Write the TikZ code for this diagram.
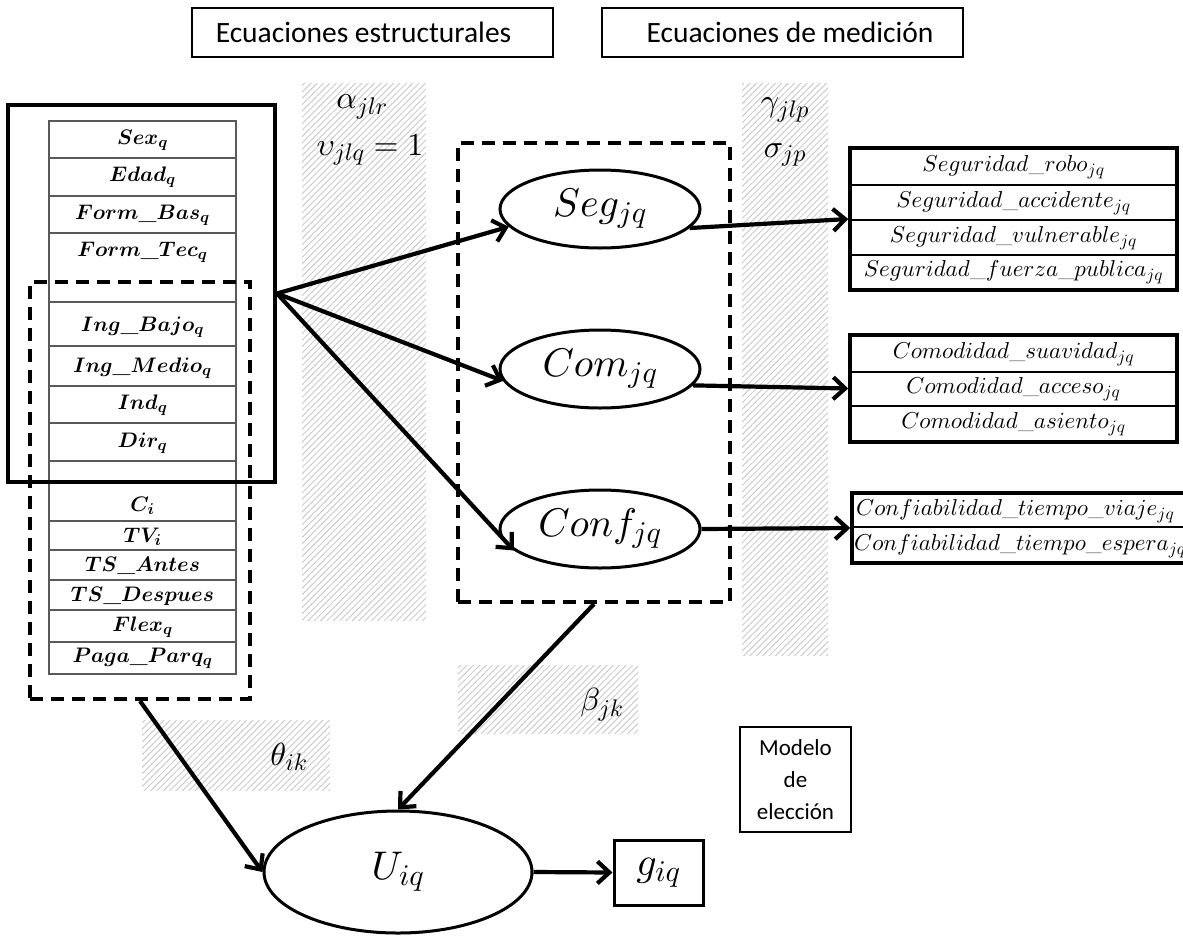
\documentclass[tikz,border=0pt]{standalone}
\usepackage{amsmath}
\usepackage{fontspec}
\newfontfamily\calib{Carlito}
\DeclareFontShape{OML}{cmm}{m}{it}{<->cmmi10}{}
\DeclareFontShape{OML}{cmm}{b}{it}{<->cmmib10}{}
\DeclareFontShape{OMS}{cmsy}{m}{n}{<->cmsy10}{}
\DeclareFontShape{OMS}{cmsy}{b}{n}{<->cmbsy10}{}
\DeclareFontShape{OT1}{cmr}{m}{n}{<->cmr10}{}
\DeclareFontShape{OT1}{cmr}{bx}{n}{<->cmbx10}{}
\def\defaultscriptratio{.75}
\usetikzlibrary{arrows.meta,patterns.meta,shapes.geometric}
\begin{document}
\begin{tikzpicture}[x=1pt,y=-1pt,
  hatch/.style={draw=none,pattern={Lines[angle=45,distance=4.5pt,line width=1pt]},pattern color=black!20},
  tline/.style={draw=black!65,line width=1.1pt},
  tabtxt/.style={inner sep=0pt,font=\fontsize{21}{25}\selectfont\bfseries\boldmath},
  rtxt/.style={inner sep=0pt,font=\fontsize{23}{27}\selectfont},
  lbl/.style={inner sep=0pt,font=\fontsize{32}{38}\selectfont},
  ell/.style={draw,ellipse,line width=3pt,inner sep=0pt,font=\fontsize{40}{46}\selectfont},
  titlebox/.style={draw,line width=2.6pt,inner sep=0pt},
  titletxt/.style={inner sep=0pt,font=\calib\fontsize{29.5}{34}\selectfont},
  dbox/.style={draw,line width=4pt,dash pattern=on 13pt off 8pt,inner sep=0pt},
  obox/.style={draw,line width=3.5pt,inner sep=0pt},
  conn/.style={line width=4.2pt,-{Straight Barb[length=12pt,width=22pt]}}
]
\useasboundingbox (0,0) rectangle (1183,935);
\clip (0,0) rectangle (1183,935);

% hatched bands
\fill[hatch] (302,83) rectangle (426,620);
\fill[hatch] (742,83) rectangle (828,655);
\fill[hatch] (458,665) rectangle (638,733);
\fill[hatch] (142,720) rectangle (330,790);

% title boxes
\node[titlebox,minimum width=361,minimum height=49] (tb1) at (372.5,32.5) {};
\node[titletxt] (tt1) at (363.5,32) {Ecuaciones estructurales};
\node[titlebox,minimum width=361,minimum height=49] (tb2) at (782.5,32.5) {};
\node[titletxt] (tt2) at (790,32) {Ecuaciones de medición};

% left table
\draw[tline,fill=white] (49,121) rectangle (236,674);
\foreach \y in {158,196,233,302,346,386,423,461,521,550,580,610,642}
  \draw[tline] (49,\y) -- (236,\y);
\node[tabtxt] (t1) at (142.5,140) {$Sex_q$};
\node[tabtxt] (t2) at (142.5,177) {$Edad_q$};
\node[tabtxt] (t3) at (142.5,215) {$Form\_Bas_q$};
\node[tabtxt] (t4) at (142.5,252) {$Form\_Tec_q$};
\node[tabtxt] (t5) at (142.5,327) {$Ing\_Bajo_q$};
\node[tabtxt] (t6) at (142.5,368) {$Ing\_Medio_q$};
\node[tabtxt] (t7) at (142.5,405) {$Ind_q$};
\node[tabtxt] (t8) at (142.5,443) {$Dir_q$};
\node[tabtxt] (t9) at (142.5,506) {$C_i$};
\node[tabtxt] (t10) at (142.5,537) {$TV_i$};
\node[tabtxt] (t11) at (142.5,566) {$TS\_Antes$};
\node[tabtxt] (t12) at (142.5,596) {$TS\_Despues$};
\node[tabtxt] (t13) at (142.5,627) {$Flex_q$};
\node[tabtxt] (t14) at (142.5,658) {$Paga\_Parq_q$};

% left boxes
\node[obox,line width=4pt,minimum width=267,minimum height=377] (lbox) at (141.5,293.5) {};
\node[dbox,minimum width=220,minimum height=417] (ldbox) at (140,490.5) {};

% center dashed box and latent variables
\node[dbox,minimum width=272,minimum height=459] (cbox) at (594,372.5) {};
\node[ell,minimum width=200,minimum height=78] (seg) at (600,209) {$Seg_{jq}$};
\node[ell,minimum width=200,minimum height=78] (com) at (600,369) {$Com_{jq}$};
\node[ell,minimum width=200,minimum height=78] (conf) at (600,529) {$Conf_{jq}$};

% parameter labels
\node[lbl] (alpha) at (362,107) {$\alpha_{jlr}$};
\node[lbl] (ups) at (370,150) {$\upsilon_{jlq}=1$};
\node[lbl] (gam) at (785,110) {$\gamma_{jlp}$};
\node[lbl] (sig) at (785,155) {$\sigma_{jp}$};
\node[lbl] (beta) at (602,705) {$\beta_{jk}$};
\node[lbl] (theta) at (289,757) {$\theta_{ik}$};

% right indicator boxes
\node[obox,minimum width=327,minimum height=142] (segbox) at (1013.5,219) {};
\foreach \y in {185,220,255} \draw[line width=1.6pt] (850,\y) -- (1177,\y);
\node[rtxt] (s1) at (1013.5,167) {$Seguridad\_robo_{jq}$};
\node[rtxt] (s2) at (1013.5,203) {$Seguridad\_accidente_{jq}$};
\node[rtxt] (s3) at (1013.5,238) {$Seguridad\_vulnerable_{jq}$};
\node[rtxt] (s4) at (1013.5,272) {$Seguridad\_fuerza\_publica_{jq}$};

\node[obox,minimum width=327,minimum height=107] (combox) at (1013.5,388.5) {};
\foreach \y in {372,406} \draw[line width=1.6pt] (850,\y) -- (1177,\y);
\node[rtxt] (c1) at (1013.5,354) {$Comodidad\_suavidad_{jq}$};
\node[rtxt] (c2) at (1013.5,389) {$Comodidad\_acceso_{jq}$};
\node[rtxt] (c3) at (1013.5,424) {$Comodidad\_asiento_{jq}$};

\node[obox,minimum width=408,minimum height=70] (confbox) at (1056,528) {};
\draw[line width=1.6pt] (852,527) -- (1260,527);
\node[rtxt,anchor=west] (f1) at (856,511) {$Confiabilidad\_tiempo\_viaje_{jq}$};
\node[rtxt,anchor=west] (f2) at (854,546) {$Confiabilidad\_tiempo\_espera_{jq}$};

% choice model
\node[draw,line width=2.4pt,minimum width=111,minimum height=105,align=center,
      font=\calib\fontsize{23}{32}\selectfont] (modelo) at (795.5,779.5) {Modelo\\de\\elección};
\node[ell,minimum width=268,minimum height=122] (u) at (398,872) {$U_{iq}$};
\node[draw,line width=3pt,minimum width=89,minimum height=65,inner sep=0pt,
      font=\fontsize{40}{46}\selectfont] (g) at (658.5,872.5) {$g_{iq}$};

% connectors
\draw[conn] (lbox.east) -- (seg.191);
\draw[conn] (lbox.east) -- (com.187);
\draw[conn] (lbox.east) -- (conf.194);
\draw[conn] (seg.-12) -- (segbox.west);
\draw[conn] (com.-10) -- (combox.west);
\draw[conn] (conf.east) -- (confbox.west);
\draw[conn] (cbox.south) -- (u.north);
\draw[conn] (ldbox.south) -- (u.west);
\draw[conn] (u.east) -- (g.west);
\end{tikzpicture}
\end{document}
